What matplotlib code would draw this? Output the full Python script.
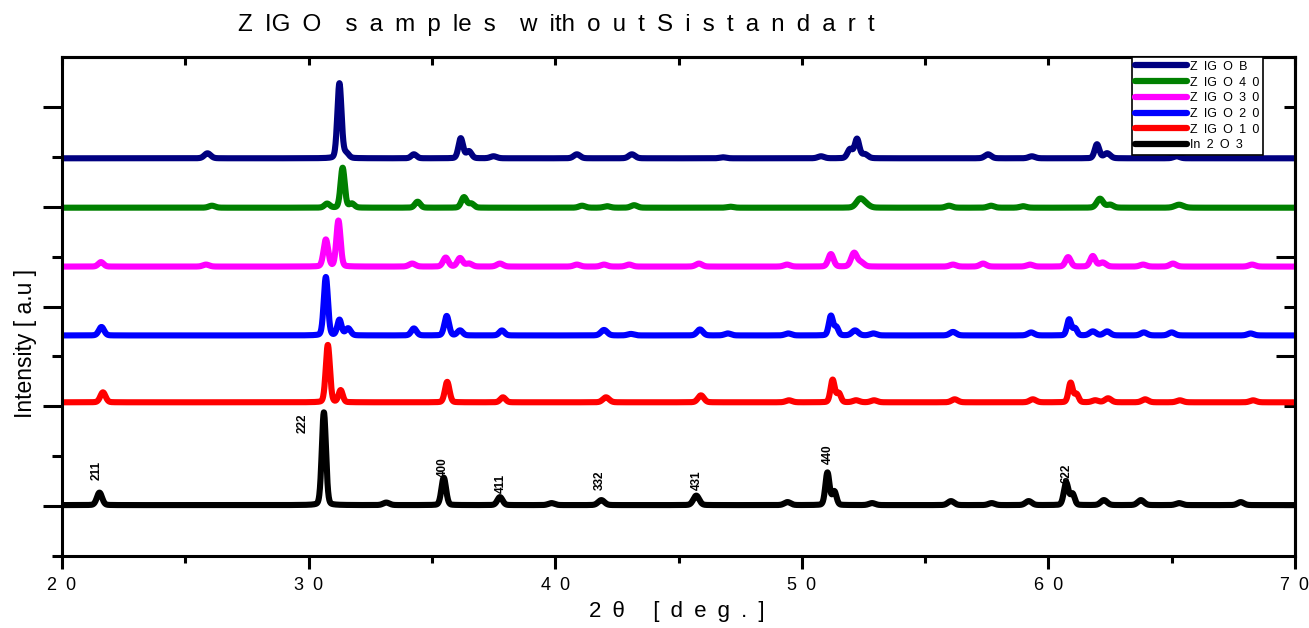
import numpy as np
import matplotlib
matplotlib.use("Agg")
import matplotlib.pyplot as plt
from matplotlib.ticker import FixedLocator

plt.rcParams['font.family'] = ['Liberation Sans', 'DejaVu Sans']

EN = "\u2002"  # en space, used for the wide letter spacing of the original

# ---------------- data ----------------
x_ticks = [20, 30, 40, 50, 60, 70]
x_tick_labels = ["2" + EN + "0", "3" + EN + "0", "4" + EN + "0",
                 "5" + EN + "0", "6" + EN + "0", "7" + EN + "0"]

series_names = ["Z" + EN + "IG" + EN + "O" + EN + "B",
                "Z" + EN + "IG" + EN + "O" + EN + "4" + EN + "0",
                "Z" + EN + "IG" + EN + "O" + EN + "3" + EN + "0",
                "Z" + EN + "IG" + EN + "O" + EN + "2" + EN + "0",
                "Z" + EN + "IG" + EN + "O" + EN + "1" + EN + "0",
                "In" + EN + "2" + EN + "O" + EN + "3"]
series_colors = ["#000080", "#008000", "#ff00ff", "#0000ff", "#ff0000", "#000000"]
# vertical offsets (baselines) of each stacked pattern, arbitrary units
baselines = [7.97, 6.98, 5.80, 4.42, 3.08, 1.02]

# peaks: (2theta, height, fwhm)
peaks_zigo_b = [(25.9, 0.10, 0.3), (31.25, 1.50, 0.2), (31.52, 0.10, 0.25),
                (34.27, 0.08, 0.25), (36.17, 0.40, 0.22), (36.5, 0.14, 0.25),
                (37.5, 0.04, 0.3), (40.88, 0.08, 0.3), (43.11, 0.08, 0.3),
                (46.8, 0.02, 0.3), (50.78, 0.04, 0.3), (51.96, 0.18, 0.25),
                (52.24, 0.38, 0.22), (52.55, 0.08, 0.3), (57.55, 0.08, 0.3),
                (59.33, 0.04, 0.3), (61.97, 0.28, 0.22), (62.38, 0.10, 0.3),
                (65.2, 0.04, 0.3)]
peaks_zigo_40 = [(26.08, 0.04, 0.3), (30.75, 0.08, 0.25), (31.38, 0.80, 0.2),
                 (31.75, 0.08, 0.25), (34.42, 0.12, 0.25), (36.3, 0.21, 0.25),
                 (36.6, 0.08, 0.25), (41.09, 0.04, 0.3), (42.1, 0.03, 0.3),
                 (43.2, 0.05, 0.3), (47.1, 0.02, 0.3), (52.36, 0.17, 0.35),
                 (52.6, 0.06, 0.35), (55.97, 0.04, 0.3), (57.67, 0.04, 0.3),
                 (58.97, 0.03, 0.3), (62.09, 0.18, 0.3), (62.5, 0.06, 0.3),
                 (65.3, 0.06, 0.4)]
peaks_zigo_30 = [(21.58, 0.09, 0.25), (25.84, 0.04, 0.3), (30.7, 0.54, 0.22),
                 (31.21, 0.92, 0.2), (34.2, 0.06, 0.3), (35.56, 0.18, 0.25),
                 (36.14, 0.17, 0.25), (36.5, 0.06, 0.3), (37.76, 0.06, 0.3),
                 (40.88, 0.04, 0.3), (41.98, 0.04, 0.3), (43.0, 0.04, 0.3),
                 (45.83, 0.06, 0.3), (49.4, 0.04, 0.3), (51.18, 0.25, 0.25),
                 (52.12, 0.27, 0.28), (52.4, 0.08, 0.3), (56.13, 0.04, 0.3),
                 (57.35, 0.06, 0.3), (59.25, 0.04, 0.3), (60.8, 0.19, 0.25),
                 (61.8, 0.21, 0.25), (62.2, 0.08, 0.3), (63.84, 0.04, 0.3),
                 (65.05, 0.06, 0.3), (68.26, 0.04, 0.3)]
peaks_zigo_20 = [(21.6, 0.17, 0.25), (30.7, 1.17, 0.2), (31.25, 0.31, 0.2),
                 (31.6, 0.14, 0.25), (34.27, 0.14, 0.25), (35.6, 0.39, 0.22),
                 (36.14, 0.10, 0.25), (37.84, 0.10, 0.25), (41.98, 0.11, 0.3),
                 (43.07, 0.03, 0.3), (45.87, 0.12, 0.28), (47.0, 0.04, 0.3),
                 (49.45, 0.04, 0.3), (51.18, 0.39, 0.2), (51.4, 0.16, 0.2),
                 (52.16, 0.10, 0.3), (52.9, 0.04, 0.3), (56.13, 0.07, 0.3),
                 (59.3, 0.06, 0.3), (60.84, 0.32, 0.2), (61.08, 0.14, 0.2),
                 (61.8, 0.08, 0.3), (62.38, 0.08, 0.3), (63.87, 0.06, 0.3),
                 (65.0, 0.06, 0.3), (68.2, 0.04, 0.3)]
peaks_zigo_10 = [(21.66, 0.20, 0.25), (30.78, 1.15, 0.2), (31.3, 0.24, 0.2),
                 (35.62, 0.41, 0.22), (37.88, 0.10, 0.25), (42.06, 0.10, 0.3),
                 (45.91, 0.14, 0.28), (49.48, 0.04, 0.3), (51.25, 0.45, 0.2),
                 (51.5, 0.18, 0.2), (52.2, 0.04, 0.3), (52.93, 0.04, 0.3),
                 (56.2, 0.06, 0.3), (59.37, 0.06, 0.3), (60.9, 0.39, 0.2),
                 (61.14, 0.16, 0.2), (61.9, 0.04, 0.3), (62.42, 0.08, 0.3),
                 (63.92, 0.06, 0.3), (65.33, 0.04, 0.3), (68.3, 0.04, 0.3)]
peaks_in2o3 = [(21.52, 0.25, 0.25), (30.62, 1.86, 0.2), (33.15, 0.05, 0.3),
               (35.48, 0.55, 0.22), (37.76, 0.16, 0.25), (39.85, 0.04, 0.3),
               (41.87, 0.10, 0.3), (45.72, 0.19, 0.28), (49.42, 0.06, 0.3),
               (51.04, 0.65, 0.2), (51.32, 0.27, 0.2), (52.85, 0.04, 0.3),
               (56.05, 0.08, 0.3), (57.7, 0.04, 0.3), (59.2, 0.08, 0.3),
               (60.72, 0.45, 0.22), (60.98, 0.22, 0.2), (62.25, 0.10, 0.3),
               (63.75, 0.10, 0.3), (65.3, 0.04, 0.3), (67.8, 0.06, 0.3)]
series_peaks = [peaks_zigo_b, peaks_zigo_40, peaks_zigo_30,
                peaks_zigo_20, peaks_zigo_10, peaks_in2o3]

# Miller index labels on the In2O3 pattern: (label, 2theta, y)
hkl_labels = ["211", "222", "400", "411", "332", "431", "440", "622"]
hkl_x = [21.42, 29.77, 35.45, 37.8, 41.82, 45.75, 51.06, 60.75]
hkl_y = [1.72, 2.66, 1.78, 1.46, 1.52, 1.52, 2.04, 1.66]

title_text = EN.join(["Z", "IG", "O" + EN, "s", "a", "m", "p", "le", "s" + EN,
                      "w", "ith", "o", "u", "t", "S", "i", "s", "t", "a", "n", "d", "a", "r", "t"])
xlabel_text = "2" + EN + "θ" + EN + EN + " [" + EN + "d" + EN + "e" + EN + "g" + EN + "." + EN + "]"
ylabel_text = "Intensity [ a.u ]"

# ---------------- drawing ----------------
W, H, DPI = 1309, 628, 100
fig = plt.figure(figsize=(W / DPI, H / DPI), dpi=DPI)
ax = fig.add_axes([62 / W, 1 - 556 / H, (1295 - 62) / W, (556 - 57) / H])

tt = np.linspace(20, 70, 6001)


def profile(base, peaks):
    y = np.full_like(tt, base)
    for p, h, w in peaks:
        s = w / 2.3548
        g = np.exp(-0.5 * ((tt - p) / s) ** 2)
        l = 1.0 / (1.0 + ((tt - p) / (w / 2)) ** 2)
        y += h * (0.85 * g + 0.15 * l)
    return y


lines = []
for name, col, base, pk in zip(series_names, series_colors, baselines, series_peaks):
    ln, = ax.plot(tt, profile(base, pk), color=col, lw=4.4, label=name,
                  solid_joinstyle='round', solid_capstyle='round')
    lines.append(ln)

for lab, lx, ly in zip(hkl_labels, hkl_x, hkl_y):
    ax.text(lx, ly, lab, rotation=90, ha='center', va='center',
            fontsize=8.5, fontweight='bold')

ax.set_xlim(20, 70)
ax.set_ylim(0, 10)

for sp in ax.spines.values():
    sp.set_linewidth(2.2)

ax.xaxis.set_major_locator(FixedLocator(x_ticks))
ax.set_xticklabels(x_tick_labels, fontsize=13)
ax.xaxis.set_minor_locator(FixedLocator([25, 35, 45, 55, 65]))
ax.tick_params(axis='x', which='major', direction='out', length=9, width=2.2, pad=6)
ax.tick_params(axis='x', which='minor', direction='out', length=5, width=2.2)

ax.yaxis.set_major_locator(FixedLocator([1, 3, 5, 7, 9]))
ax.yaxis.set_minor_locator(FixedLocator([0, 2, 4, 6, 8]))
ax.tick_params(axis='y', which='major', direction='out', length=14, width=2.2, labelleft=False)
ax.tick_params(axis='y', which='minor', direction='out', length=7, width=2.2)

top = ax.secondary_xaxis('top')
top.xaxis.set_major_locator(FixedLocator([20, 25, 30, 35, 40, 45, 50, 55, 60, 65, 70]))
top.tick_params(direction='in', length=6, width=2.2, labeltop=False)
top.spines['top'].set_linewidth(2.2)

right = ax.secondary_yaxis('right')
right.yaxis.set_major_locator(FixedLocator([4, 6, 8]))
right.yaxis.set_minor_locator(FixedLocator([1, 3, 5, 7, 9]))
right.tick_params(which='major', direction='in', length=14, width=2.2, labelright=False)
right.tick_params(which='minor', direction='in', length=8, width=2.2)
right.spines['right'].set_linewidth(2.2)

ax.set_ylabel(ylabel_text, fontsize=16.5)
ax.yaxis.set_label_coords((37 - 62) / 1233, (556 - 343) / 499)
fig.text(677 / W, 1 - 611 / H, xlabel_text, ha='center', va='center', fontsize=16)
fig.text(238 / W, 1 - 25 / H, title_text, ha='left', va='center', fontsize=17.4)

leg = ax.legend(handles=lines, loc='upper right', bbox_to_anchor=(0.974, 1.0),
                borderaxespad=0, fontsize=9, handlelength=4.1, handletextpad=0.25,
                labelspacing=0.3, borderpad=0.3, fancybox=False, framealpha=1,
                edgecolor='black')
leg.get_frame().set_linewidth(1.2)
for lh in leg.get_lines():
    lh.set_linewidth(4.5)

fig.savefig("out.png", dpi=DPI)
